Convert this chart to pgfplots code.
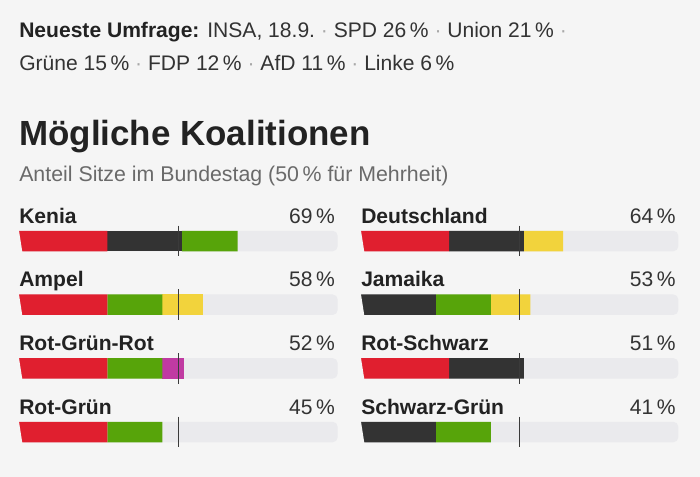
\documentclass[border=0pt]{standalone}
\usepackage{pgfplots}
\pgfplotsset{compat=1.18}
\usepackage{fontspec}
\setmainfont{Liberation Sans}
\definecolor{bgc}{HTML}{F5F5F5}
\definecolor{trackc}{HTML}{EAEAED}
\definecolor{spd}{HTML}{E01F2F}
\definecolor{union}{HTML}{333333}
\definecolor{gruene}{HTML}{57A40A}
\definecolor{fdp}{HTML}{F2D33C}
\definecolor{linke}{HTML}{C03AA2}
\definecolor{txt}{HTML}{222222}
\definecolor{txtb}{HTML}{333333}
\definecolor{subc}{HTML}{6A6A6A}
\definecolor{dotc}{HTML}{A8A8A8}
\definecolor{midc}{HTML}{3A3A3A}
\newcommand{\sep}{\ {\color{dotc}·}\ }
\newcommand{\track}[1]{\fill[trackc, rounded corners=3.75pt] (axis cs:0,#1-0.161) rectangle (axis cs:100,#1+0.161);}
\newcommand{\masks}[1]{%
  \fill[bgc] (axis cs:0,#1-0.161) -- ++(3.75pt,0) arc[start angle=90,end angle=180,radius=3.75pt] -- cycle;
  \fill[bgc] (axis cs:0,#1+0.161) -- ++(3.75pt,0) arc[start angle=270,end angle=180,radius=3.75pt] -- cycle;}
\pgfplotsset{
  colbase/.style={anchor=north west, scale only axis, height=191pt,
    xmin=0, xmax=100, ymin=-0.5, ymax=3.5, y dir=reverse, hide axis,
    clip=false, enlargelimits=false},
  bars/.style={colbase, xbar stacked, bar width=15.4pt},
}
\begin{document}
\begin{tikzpicture}
\fill[bgc] (0,0) rectangle (525pt,-357.75pt);
\begin{scope}[x=0.75pt,y=-0.75pt]
\node[anchor=base west,inner sep=0,font=\fontsize{15.8}{18}\selectfont,text=txtb] at (19,37.5)
  {{\color{txt}\bfseries Neueste Umfrage:} INSA, 18.9.\sep SPD 26\,\%\sep Union 21\,\%\sep};
\node[anchor=base west,inner sep=0,font=\fontsize{15.8}{18}\selectfont,text=txtb] at (19,70.5)
  {Grüne 15\,\%\sep FDP 12\,\%\sep AfD 11\,\%\sep Linke 6\,\%};
\node[anchor=base west,inner sep=0,font=\fontsize{26.2}{30}\selectfont\bfseries,text=txt] at (19,146)
  {Mögliche Koalitionen};
\node[anchor=base west,inner sep=0,font=\fontsize{16}{19}\selectfont,text=subc] at (19,182)
  {Anteil Sitze im Bundestag (50\,\% für Mehrheit)};
\end{scope}

% ---------- left column
\begin{axis}[colbase, at={(14.25pt,-156.9pt)}, width=239pt]
\track{0}\track{1}\track{2}\track{3}
\end{axis}
\begin{axis}[bars, at={(14.25pt,-156.9pt)}, width=239pt]
\addplot[fill=spd, draw=none] coordinates {(27.7,0) (27.7,1) (27.7,2) (27.7,3)};
\addplot[fill=union, draw=none] coordinates {(23.4,0) (0,1) (0,2) (0,3)};
\addplot[fill=gruene, draw=none] coordinates {(17.5,0) (17.3,1) (17.3,2) (17.3,3)};
\addplot[fill=fdp, draw=none] coordinates {(0,0) (12.7,1) (0,2) (0,3)};
\addplot[fill=linke, draw=none] coordinates {(0,0) (0,1) (6.8,2) (0,3)};
\end{axis}
\begin{axis}[colbase, at={(14.25pt,-156.9pt)}, width=239pt]
\masks{0}\masks{1}\masks{2}\masks{3}
\addplot[midc, line width=1pt] coordinates {(50,-0.241) (50,0.241)};
\addplot[midc, line width=1pt] coordinates {(50,0.759) (50,1.241)};
\addplot[midc, line width=1pt] coordinates {(50,1.759) (50,2.241)};
\addplot[midc, line width=1pt] coordinates {(50,2.759) (50,3.241)};
\begin{scope}[every node/.style={inner sep=0, font=\fontsize{15.8}{18}\selectfont}]
\node[anchor=base west, text=txt, font=\fontsize{15.8}{18}\selectfont\bfseries] at (axis cs:0,-0.28) {Kenia};
\node[anchor=base west, text=txt, font=\fontsize{15.8}{18}\selectfont\bfseries] at (axis cs:0,0.72) {Ampel};
\node[anchor=base west, text=txt, font=\fontsize{15.8}{18}\selectfont\bfseries] at (axis cs:0,1.72) {Rot-Grün-Rot};
\node[anchor=base west, text=txt, font=\fontsize{15.8}{18}\selectfont\bfseries] at (axis cs:0,2.72) {Rot-Grün};
\node[anchor=base east, text=txtb] at (axis cs:99.2,-0.28) {69\,\%};
\node[anchor=base east, text=txtb] at (axis cs:99.2,0.72) {58\,\%};
\node[anchor=base east, text=txtb] at (axis cs:99.2,1.72) {52\,\%};
\node[anchor=base east, text=txtb] at (axis cs:99.2,2.72) {45\,\%};
\end{scope}
\end{axis}

% ---------- right column
\begin{axis}[colbase, at={(270.75pt,-156.9pt)}, width=238pt]
\track{0}\track{1}\track{2}\track{3}
\end{axis}
\begin{axis}[bars, at={(270.75pt,-156.9pt)}, width=238pt]
\addplot[fill=spd, draw=none] coordinates {(27.8,0) (0,1) (27.8,2) (0,3)};
\addplot[fill=union, draw=none] coordinates {(23.5,0) (23.6,1) (23.5,2) (23.6,3)};
\addplot[fill=gruene, draw=none] coordinates {(0,0) (17.3,1) (0,2) (17.3,3)};
\addplot[fill=fdp, draw=none] coordinates {(12.4,0) (12.5,1) (0,2) (0,3)};
\end{axis}
\begin{axis}[colbase, at={(270.75pt,-156.9pt)}, width=238pt]
\masks{0}\masks{1}\masks{2}\masks{3}
\addplot[midc, line width=1pt] coordinates {(50,-0.241) (50,0.241)};
\addplot[midc, line width=1pt] coordinates {(50,0.759) (50,1.241)};
\addplot[midc, line width=1pt] coordinates {(50,1.759) (50,2.241)};
\addplot[midc, line width=1pt] coordinates {(50,2.759) (50,3.241)};
\begin{scope}[every node/.style={inner sep=0, font=\fontsize{15.8}{18}\selectfont}]
\node[anchor=base west, text=txt, font=\fontsize{15.8}{18}\selectfont\bfseries] at (axis cs:0,-0.28) {Deutschland};
\node[anchor=base west, text=txt, font=\fontsize{15.8}{18}\selectfont\bfseries] at (axis cs:0,0.72) {Jamaika};
\node[anchor=base west, text=txt, font=\fontsize{15.8}{18}\selectfont\bfseries] at (axis cs:0,1.72) {Rot-Schwarz};
\node[anchor=base west, text=txt, font=\fontsize{15.8}{18}\selectfont\bfseries] at (axis cs:0,2.72) {Schwarz-Grün};
\node[anchor=base east, text=txtb] at (axis cs:99.2,-0.28) {64\,\%};
\node[anchor=base east, text=txtb] at (axis cs:99.2,0.72) {53\,\%};
\node[anchor=base east, text=txtb] at (axis cs:99.2,1.72) {51\,\%};
\node[anchor=base east, text=txtb] at (axis cs:99.2,2.72) {41\,\%};
\end{scope}
\end{axis}
\pgfresetboundingbox
\useasboundingbox (0,0) rectangle (525pt,-357.75pt);
\end{tikzpicture}
\end{document}
